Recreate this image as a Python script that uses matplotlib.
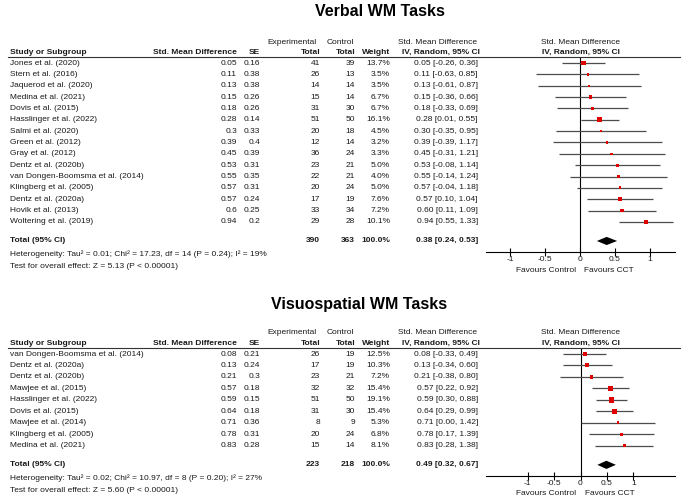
import numpy as np
import matplotlib
matplotlib.use('Agg')
import matplotlib.pyplot as plt
from matplotlib.lines import Line2D
from matplotlib import transforms

plt.rcParams['font.family'] = ['Liberation Sans', 'DejaVu Sans']
plt.rcParams['axes.unicode_minus'] = False

# ---- Verbal WM tasks ----
verbal_studies = ["Jones et al. (2020)", "Stern et al. (2016)", "Jaquerod et al. (2020)",
                  "Medina et al. (2021)", "Dovis et al. (2015)", "Hasslinger et al. (2022)",
                  "Salmi et al. (2020)", "Green et al. (2012)", "Gray et al. (2012)",
                  "Dentz et al. (2020b)", "van Dongen-Boomsma et al. (2014)",
                  "Klingberg et al. (2005)", "Dentz et al. (2020a)", "Hovik et al. (2013)",
                  "Woltering et al. (2019)"]
verbal_smd = [0.05, 0.11, 0.13, 0.15, 0.18, 0.28, 0.3, 0.39, 0.45, 0.53, 0.55, 0.57, 0.57, 0.6, 0.94]
verbal_se = [0.16, 0.38, 0.38, 0.26, 0.26, 0.14, 0.33, 0.4, 0.39, 0.31, 0.35, 0.31, 0.24, 0.25, 0.2]
verbal_exp = [41, 26, 14, 15, 31, 51, 20, 12, 36, 23, 22, 20, 17, 33, 29]
verbal_ctl = [39, 13, 14, 14, 30, 50, 18, 14, 24, 21, 21, 24, 19, 34, 28]
verbal_weight = [13.7, 3.5, 3.5, 6.7, 6.7, 16.1, 4.5, 3.2, 3.3, 5.0, 4.0, 5.0, 7.6, 7.2, 10.1]
verbal_lo = [-0.26, -0.63, -0.61, -0.36, -0.33, 0.01, -0.35, -0.39, -0.31, -0.08, -0.14, -0.04, 0.10, 0.11, 0.55]
verbal_hi = [0.36, 0.85, 0.87, 0.66, 0.69, 0.55, 0.95, 1.17, 1.21, 1.14, 1.24, 1.18, 1.04, 1.09, 1.33]
verbal_total = (0.38, 0.24, 0.53)
verbal_n = (390, 363)
verbal_het = "Heterogeneity: Tau\u00b2 = 0.01; Chi\u00b2 = 17.23, df = 14 (P = 0.24); I\u00b2 = 19%"
verbal_z = "Test for overall effect: Z = 5.13 (P < 0.00001)"

# ---- Visuospatial WM tasks ----
visuo_studies = ["van Dongen-Boomsma et al. (2014)", "Dentz et al. (2020a)", "Dentz et al. (2020b)",
                 "Mawjee et al. (2015)", "Hasslinger et al. (2022)", "Dovis et al. (2015)",
                 "Mawjee et al. (2014)", "Klingberg et al. (2005)", "Medina et al. (2021)"]
visuo_smd = [0.08, 0.13, 0.21, 0.57, 0.59, 0.64, 0.71, 0.78, 0.83]
visuo_se = [0.21, 0.24, 0.3, 0.18, 0.15, 0.18, 0.36, 0.31, 0.28]
visuo_exp = [26, 17, 23, 32, 51, 31, 8, 20, 15]
visuo_ctl = [19, 19, 21, 32, 50, 30, 9, 24, 14]
visuo_weight = [12.5, 10.3, 7.2, 15.4, 19.1, 15.4, 5.3, 6.8, 8.1]
visuo_lo = [-0.33, -0.34, -0.38, 0.22, 0.30, 0.29, 0.00, 0.17, 0.28]
visuo_hi = [0.49, 0.60, 0.80, 0.92, 0.88, 0.99, 1.42, 1.39, 1.38]
visuo_total = (0.49, 0.32, 0.67)
visuo_n = (223, 218)
visuo_het = "Heterogeneity: Tau\u00b2 = 0.02; Chi\u00b2 = 10.97, df = 8 (P = 0.20); I\u00b2 = 27%"
visuo_z = "Test for overall effect: Z = 5.60 (P < 0.00001)"

ticks = [-1, -0.5, 0, 0.5, 1]

W, H = 685, 498
FS = 6.0
INK = '#1a1a1a'
# column right edges in pixels
C_SMD, C_SE, C_EXP, C_CTL, C_WT, C_CI = 237, 260, 320, 355, 390, 478


def fx(px):
    return px / W


def fy(py):
    return 1 - py / H


def panel(fig, title, title_pos, row0, step, xlim,
          studies, smd, se, n_exp, n_ctl, weight, lo, hi, total, n_tot, het, ztest):
    n = len(studies)
    top_px = row0 - 0.5 * step
    bot_px = row0 + (n + 1.65) * step
    ax = fig.add_axes([fx(486), fy(bot_px), fx(675) - fx(486), (bot_px - top_px) / H])
    ax.set_xlim(*xlim)
    ax.set_ylim(n + 1.65, -0.5)

    tr = transforms.blended_transform_factory(fig.transFigure, ax.transData)
    tr_mid = transforms.blended_transform_factory(ax.transAxes, ax.transData)

    def t(x, y, s, ha='right', bold=False):
        ax.text(fx(x), y, s, transform=tr, ha=ha, va='center', fontsize=FS, color=INK,
                fontweight='bold' if bold else 'normal', clip_on=False)

    fig.text(fx(title_pos[0]), fy(title_pos[1]), title, ha='center', va='center',
             fontsize=11.5, fontweight='bold', color='black')

    # header
    t(317, -1.85, "Experimental")
    t(354, -1.85, "Control")
    t(437, -1.85, "Std. Mean Difference", ha='center')
    t(10, -0.96, "Study or Subgroup", ha='left', bold=True)
    t(C_SMD, -0.96, "Std. Mean Difference", bold=True)
    t(C_SE, -0.96, "SE", bold=True)
    t(C_EXP, -0.96, "Total", bold=True)
    t(C_CTL, -0.96, "Total", bold=True)
    t(C_WT, -0.96, "Weight", bold=True)
    t(441, -0.96, "IV, Random, 95% CI", ha='center', bold=True)
    ax.text(0.5, -1.85, "Std. Mean Difference", transform=tr_mid,
            ha='center', va='center', fontsize=FS, color=INK, clip_on=False)
    ax.text(0.5, -0.96, "IV, Random, 95% CI", transform=tr_mid,
            ha='center', va='center', fontsize=FS, color=INK, fontweight='bold', clip_on=False)
    fig.add_artist(Line2D([fx(8), fx(680)], [fy(top_px), fy(top_px)], transform=fig.transFigure,
                          color='#333333', lw=0.8))

    # study rows
    for i in range(n):
        t(10, i, studies[i], ha='left')
        t(C_SMD, i, f"{smd[i]:g}")
        t(C_SE, i, f"{se[i]:g}")
        t(C_EXP, i, str(n_exp[i]))
        t(C_CTL, i, str(n_ctl[i]))
        t(C_WT, i, f"{weight[i]:.1f}%")
        t(C_CI, i, f"{smd[i]:.2f} [{lo[i]:.2f}, {hi[i]:.2f}]")

    # total rows
    yt = n + 0.68
    t(10, yt, "Total (95% CI)", ha='left', bold=True)
    t(C_EXP, yt, str(n_tot[0]), bold=True)
    t(C_CTL, yt, str(n_tot[1]), bold=True)
    t(C_WT, yt, "100.0%", bold=True)
    t(C_CI, yt, f"{total[0]:.2f} [{total[1]:.2f}, {total[2]:.2f}]", bold=True)
    t(10, n + 1.88, het, ha='left')
    t(10, n + 2.95, ztest, ha='left')

    # forest
    rows = np.arange(n)
    ax.axvline(0, color='black', lw=0.8)
    ax.hlines(rows, lo, hi, color='#4d4d4d', lw=0.9)
    ax.scatter(smd, rows, s=np.array(weight) * 0.8, marker='s', color='#e00000', lw=0, zorder=3)
    est, l, h = total
    ax.fill([l, est, h, est], [yt, yt - 0.36, yt, yt + 0.36], color='black', lw=0)

    for s in ('left', 'right', 'top'):
        ax.spines[s].set_visible(False)
    ax.spines['bottom'].set_linewidth(0.8)
    ax.set_yticks([])
    ax.set_xticks(ticks)
    ax.set_xticklabels([f"{v:g}" for v in ticks])
    ax.tick_params(axis='x', direction='inout', length=6, width=0.8, labelsize=FS, pad=0,
                   labelcolor=INK)
    ax.annotate("Favours Control", xy=(0, 0), xycoords=('data', 'axes fraction'),
                xytext=(-3, -13), textcoords='offset points', ha='right', va='center',
                fontsize=FS, color=INK)
    ax.annotate("Favours CCT", xy=(0, 0), xycoords=('data', 'axes fraction'),
                xytext=(3, -13), textcoords='offset points', ha='left', va='center',
                fontsize=FS, color=INK)
    return ax


fig = plt.figure(figsize=(W / 100, H / 100), dpi=100)

panel(fig, "Verbal WM Tasks", (380, 11), 63, 11.35, (-1.35, 1.36),
      verbal_studies, verbal_smd, verbal_se, verbal_exp, verbal_ctl, verbal_weight,
      verbal_lo, verbal_hi, verbal_total, verbal_n, verbal_het, verbal_z)

panel(fig, "Visuospatial WM Tasks", (359, 305), 354, 11.45, (-1.79, 1.79),
      visuo_studies, visuo_smd, visuo_se, visuo_exp, visuo_ctl, visuo_weight,
      visuo_lo, visuo_hi, visuo_total, visuo_n, visuo_het, visuo_z)

fig.savefig("out.png", dpi=100)
